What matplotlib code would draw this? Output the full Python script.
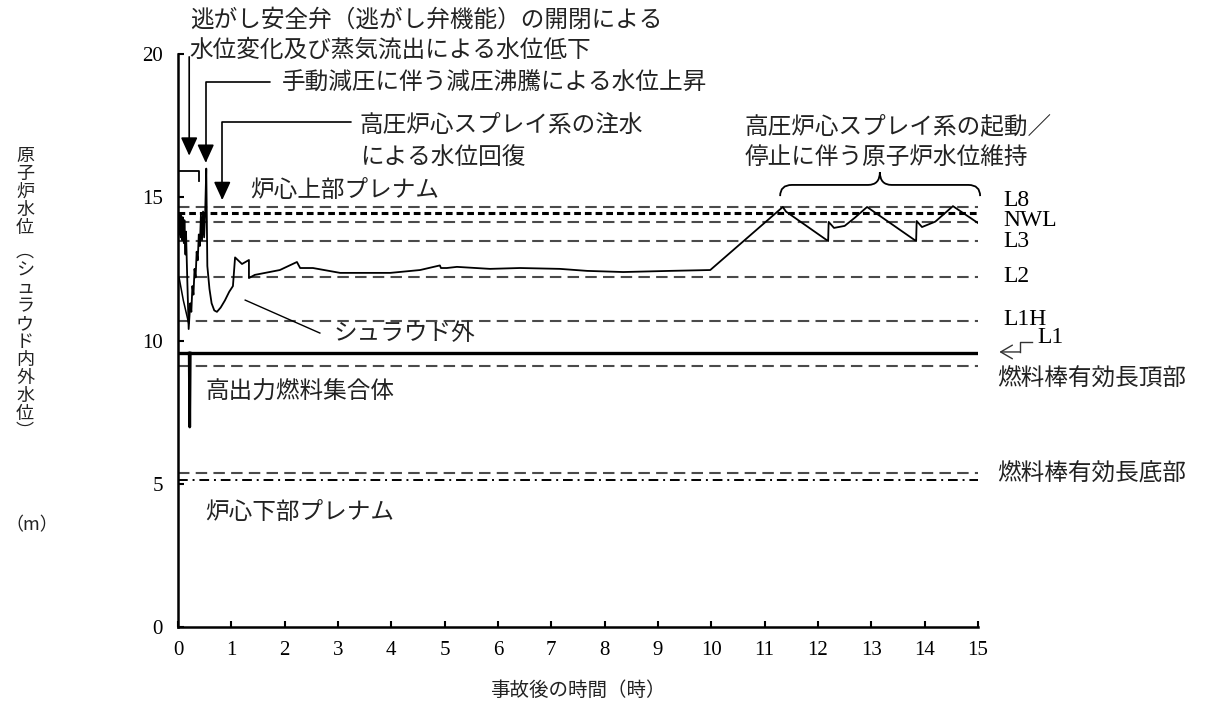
import matplotlib
matplotlib.use("Agg")
import matplotlib.pyplot as plt
from matplotlib.path import Path
from matplotlib.patches import PathPatch

JP = ["Noto Sans CJK JP", "DejaVu Sans"]
SERIF = ["Liberation Serif", "Noto Sans CJK JP"]

# reactor water level inside/outside shroud (m) vs time after accident (h)
t_main = [0.00, 0.02, 0.03, 0.05, 0.06, 0.08, 0.09, 0.11, 0.12, 0.14, 0.15, 0.17, 0.20,
          0.23, 0.25, 0.27, 0.29, 0.31, 0.33, 0.35, 0.37, 0.39, 0.41, 0.43, 0.45, 0.47, 0.49, 0.51, 0.53,
          0.55, 0.59, 0.63, 0.68, 0.73, 0.80, 0.88, 0.96, 1.03, 1.07,
          1.20, 1.33, 1.33, 1.44, 1.91, 2.23, 2.29, 2.53, 3.04, 3.98, 4.54, 4.91, 4.93, 5.04, 5.23,
          5.85, 6.41, 7.16, 7.67, 8.35, 9.23, 9.98,
          11.34, 11.40, 12.19, 12.20, 12.30, 12.50, 12.70, 12.92, 13.84, 13.85, 13.95, 14.20, 14.53, 15.00]
h_main = [14.40, 13.70, 14.40, 13.60, 14.35, 13.50, 14.30, 13.40, 14.20, 13.00, 13.80, 12.40, 10.40,
          11.30, 11.00, 11.90, 11.60, 12.50, 12.20, 13.10, 12.80, 13.70, 13.30, 14.40, 13.50, 14.50, 13.60, 14.50, 16.00,
          12.60, 11.80, 11.30, 11.05, 11.00, 11.15, 11.40, 11.70, 11.90, 12.90,
          12.67, 12.81, 12.18, 12.29, 12.46, 12.74, 12.53, 12.53, 12.36, 12.36, 12.46, 12.62, 12.53, 12.53, 12.57,
          12.50, 12.53, 12.50, 12.43, 12.39, 12.43, 12.46,
          14.66, 14.50, 13.47, 14.14, 13.93, 14.00, 14.30, 14.66, 13.47, 14.17, 13.96, 14.15, 14.69, 14.10]

# early outside-shroud drop
t_out = [0.02, 0.10, 0.20]
h_out = [12.20, 11.40, 10.60]

# high power fuel assembly level
t_hp = [0.21, 0.22, 0.23]
h_hp = [9.56, 6.98, 9.56]

# short upper trace at start
t_up = [0.00, 0.39, 0.39]
h_up = [15.92, 15.92, 15.55]

# level settings (m)
lv_dashed = [14.67, 14.15, 13.49, 12.22, 10.68, 9.11, 5.38]
lv_nwl = 14.44
lv_l1 = 9.56
lv_plenum = 5.13

right_names = ["L8", "NWL", "L3", "L2", "L1H"]
right_pos = [14.90, 14.20, 13.47, 12.22, 10.75]

fig = plt.figure(figsize=(12.05, 7.08), dpi=100)
ax = fig.add_axes([178 / 1205, 81 / 708, 800 / 1205, 573 / 708])
ax.set_xlim(0, 15)
ax.set_ylim(0, 20)

for y in lv_dashed:
    ax.plot([0, 15], [y, y], color="#4a4a4a", lw=1.5, dashes=(5.5, 3))
ax.plot([0, 15], [lv_nwl, lv_nwl], color="black", lw=2.2, dashes=(2.2, 1.3))
ax.plot([0, 15], [lv_l1, lv_l1], color="black", lw=2.4)
ax.plot([0, 15], [lv_plenum, lv_plenum], color="black", lw=1.4, dashes=(5, 2.5, 1, 2.5))

ax.plot(t_main, h_main, color="black", lw=1.3)
ax.plot(t_out, h_out, color="black", lw=1.1)
ax.plot(t_hp, h_hp, color="black", lw=2.0)
ax.plot(t_up, h_up, color="black", lw=1.3)

for s in ["top", "right"]:
    ax.spines[s].set_visible(False)
for s in ["left", "bottom"]:
    ax.spines[s].set_linewidth(1.8)
ax.set_xticks(range(0, 16))
ax.set_yticks(range(0, 21, 5))
ax.tick_params(direction="in", length=4, width=1.5, labelsize=15)
ax.tick_params(axis="x", pad=10)
ax.tick_params(axis="y", pad=11)
for lab in ax.get_xticklabels() + ax.get_yticklabels():
    lab.set_fontfamily(SERIF)

# annotation arrows
arr = dict(arrowstyle="-|>,head_length=0.7,head_width=0.32", color="black", lw=1.2,
           shrinkA=0, shrinkB=0, mutation_scale=16)
ax.annotate("", xy=(0.21, 16.45), xytext=(0.21, 19.9), arrowprops=arr, annotation_clip=False)
ax.annotate("", xy=(0.52, 16.2), xytext=(1.72, 19.02),
            arrowprops=dict(arr, connectionstyle="angle,angleA=180,angleB=90,rad=0"),
            annotation_clip=False)
ax.annotate("", xy=(0.83, 14.9), xytext=(3.25, 17.63),
            arrowprops=dict(arr, connectionstyle="angle,angleA=180,angleB=90,rad=0"),
            annotation_clip=False)

# leader for outside-shroud curve
ax.plot([1.26, 2.66], [11.41, 10.26], color="black", lw=1.0)

# brace over the HPCS cycling period
xl, xm, xr = 11.29, 13.16, 15.04
y0, y1, y2 = 15.04, 15.43, 15.88
r = 0.22
verts = [(xl, y0), (xl, y1), (xl + r, y1), (xm - r, y1), (xm, y1), (xm, y2),
         (xm, y1), (xm + r, y1), (xr - r, y1), (xr, y1), (xr, y0)]
codes = [Path.MOVETO, Path.CURVE3, Path.CURVE3, Path.LINETO, Path.CURVE3, Path.CURVE3,
         Path.CURVE3, Path.CURVE3, Path.LINETO, Path.CURVE3, Path.CURVE3]
ax.add_patch(PathPatch(Path(verts, codes), fill=False, lw=1.3, color="black", clip_on=False))

# L1 pointer on the right
ax.plot([16.02, 15.79, 15.79], [9.95, 9.95, 9.60], color="#333333", lw=1.0, clip_on=False)
ax.annotate("", xy=(15.40, 9.60), xytext=(15.79, 9.60),
            arrowprops=dict(arrowstyle="->,head_length=0.6,head_width=0.35", color="#333333",
                            lw=1.0, shrinkA=0, shrinkB=0, mutation_scale=14),
            annotation_clip=False)

jp = dict(fontfamily=JP, fontsize=17, color="#222222", va="center", ha="left")
ax.text(0.22, 21.19, "逃がし安全弁（逃がし弁機能）の開閉による", clip_on=False, **jp)
ax.text(0.22, 20.14, "水位変化及び蒸気流出による水位低下", clip_on=False, **jp)
ax.text(1.95, 18.99, "手動減圧に伴う減圧沸騰による水位上昇", **jp)
ax.text(3.41, 17.52, "高圧炉心スプレイ系の注水", **jp)
ax.text(3.41, 16.40, "による水位回復", **jp)
ax.text(10.63, 17.45, "高圧炉心スプレイ系の起動／", **jp)
ax.text(10.63, 16.40, "停止に伴う原子炉水位維持", **jp)
ax.text(1.35, 15.25, "炉心上部プレナム", **jp)
ax.text(2.91, 10.26, "シュラウド外", **jp)
ax.text(0.51, 8.20, "高出力燃料集合体", **jp)
ax.text(0.51, 3.98, "炉心下部プレナム", **jp)
ax.text(15.36, 8.66, "燃料棒有効長頂部", clip_on=False, **jp)
ax.text(15.36, 5.34, "燃料棒有効長底部", clip_on=False, **jp)

for name, y in zip(right_names, right_pos):
    ax.text(15.47, y, name, fontfamily=SERIF, fontsize=17, va="center", ha="left", clip_on=False)
ax.text(16.11, 10.09, "L1", fontfamily=SERIF, fontsize=17, va="center", ha="left", clip_on=False)

# axis titles
fig.text(578 / 1205, 1 - 690 / 708, "事故後の時間（時）", fontfamily=JP, fontsize=14,
         ha="center", va="center", color="#222222")
ylab = "原子炉水位︵シュラウド内外水位︶"
for i, ch in enumerate(ylab):
    yy = 156 + 18 * i + (6 if i > 4 else 0)
    fig.text(25 / 1205, 1 - yy / 708, ch, fontfamily=JP, fontsize=13,
             ha="center", va="center", color="#222222")
fig.text(32 / 1205, 1 - 525 / 708, "（m）", fontfamily=JP, fontsize=13,
         ha="center", va="center", color="#222222")

fig.savefig("out.png", dpi=100)
